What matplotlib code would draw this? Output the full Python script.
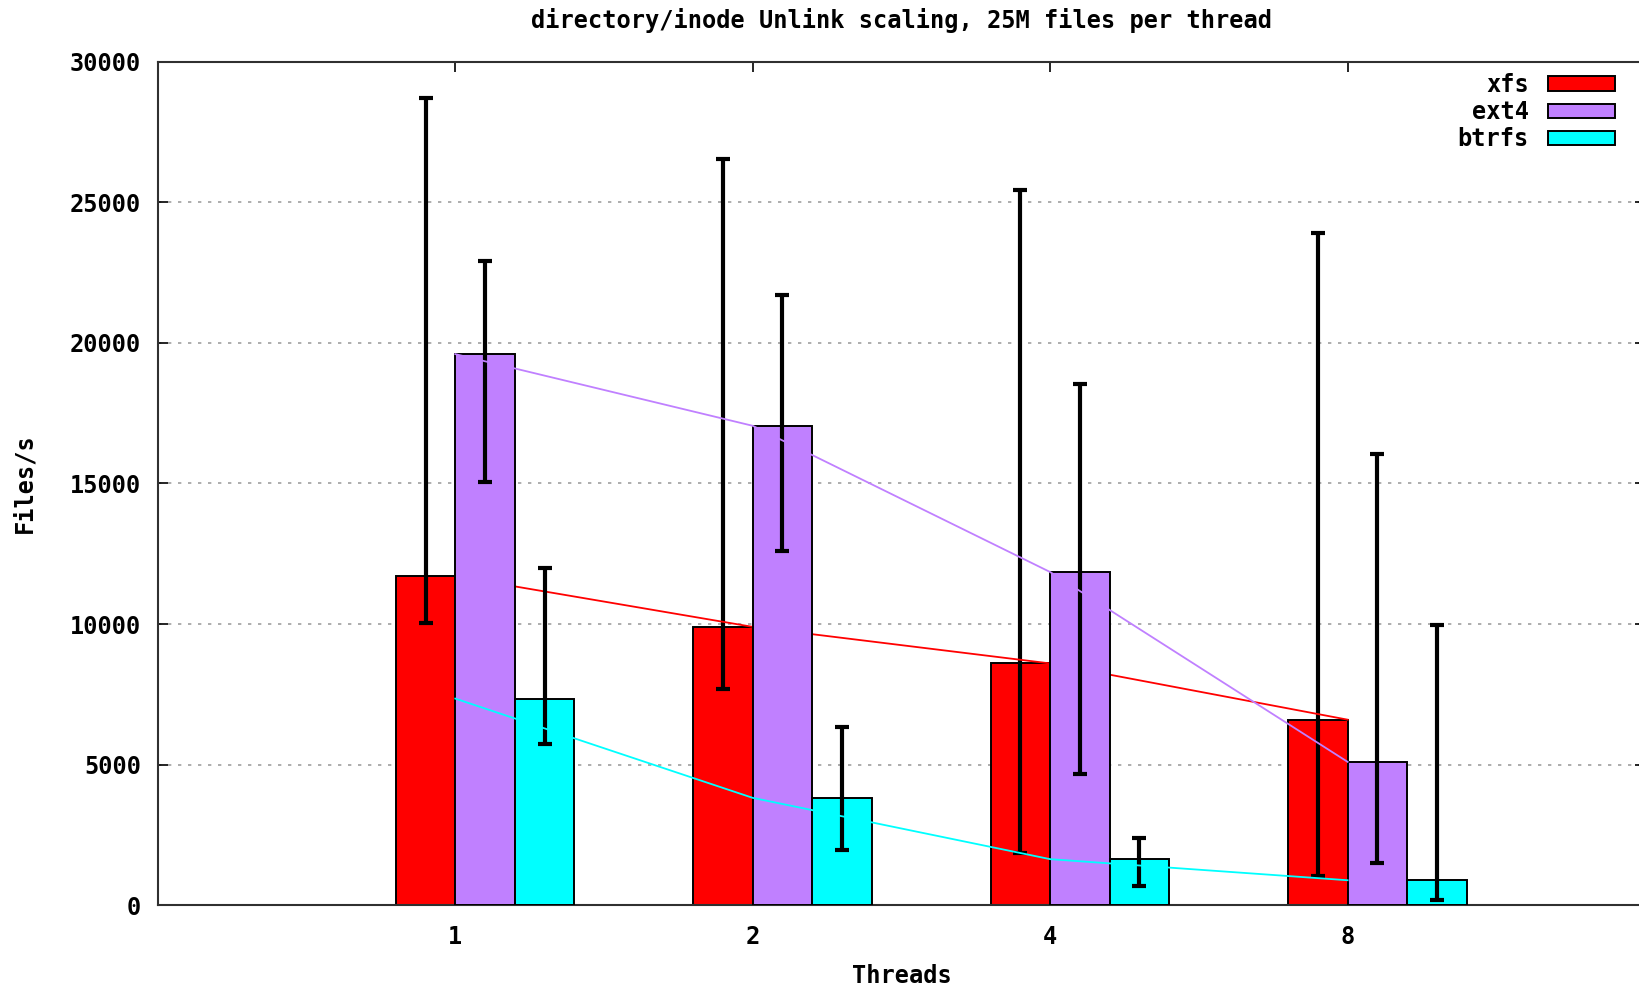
#Unlink scaling chart: xfs / ext4 / btrfs, bars with error ranges and trend lines
import matplotlib
matplotlib.use("Agg")
import matplotlib.pyplot as plt
import numpy as np

#Data
threads = ["1", "2", "4", "8"]
series = ["xfs", "ext4", "btrfs"]
xfs = [11700, 9900, 8600, 6600]
ext4 = [19600, 17050, 11850, 5100]
btrfs = [7350, 3820, 1640, 890]
#lower / upper ends of the error bars
xfs_low = [10030, 7700, 1860, 1040]
xfs_high = [28700, 26550, 25450, 23900]
ext4_low = [15050, 12600, 4680, 1520]
ext4_high = [22900, 21700, 18550, 16050]
btrfs_low = [5720, 1970, 670, 190]
btrfs_high = [12000, 6350, 2380, 9960]

colors = ["#ff0000", "#c080ff", "#00ffff"]
mono = "DejaVu Sans Mono"
fsize = 17

fig = plt.figure(figsize=(16.39, 9.91), dpi=100)
ax = fig.add_axes([0.0963, 0.0865, 0.9074, 0.8513])

x = np.arange(len(threads))
width = 0.2
values = [xfs, ext4, btrfs]
lows = [xfs_low, ext4_low, btrfs_low]
highs = [xfs_high, ext4_high, btrfs_high]

for i, (name, vals, lo, hi, c) in enumerate(zip(series, values, lows, highs, colors)):
    pos = x - 0.1 + i * width
    vals = np.array(vals)
    yerr = [vals - np.array(lo), np.array(hi) - vals]
    z = 2 + i
    ax.bar(pos, vals, width, color=c, edgecolor="black", linewidth=1.4, label=name, zorder=z)
    ax.errorbar(pos, vals, yerr=yerr, fmt="none", ecolor="black", elinewidth=3,
                capsize=5, capthick=3, zorder=z + 0.2)
    #trend line through the tick positions
    ax.plot(x, vals, color=c, linewidth=1.3, zorder=z + 0.5)

ax.set_xlim(-1, 4)
ax.set_ylim(0, 30000)
ax.set_yticks(np.arange(0, 30001, 5000))
ax.set_xticks(x)
ax.set_xticklabels(threads)
ax.yaxis.grid(True, linestyle=(0, (2, 4)), color="#a0a0a0", linewidth=1.2)
ax.set_axisbelow(True)

ax.tick_params(direction="in", length=7, width=1.2, top=True, right=True,
               labelsize=fsize, colors="black")
ax.tick_params(axis="x", pad=14)
ax.tick_params(axis="y", pad=12)
for lab in ax.get_xticklabels() + ax.get_yticklabels():
    lab.set_fontfamily(mono)
    lab.set_fontweight("bold")
for sp in ax.spines.values():
    sp.set_linewidth(1.5)
    sp.set_color("#303030")

ax.set_xlabel("Threads", fontfamily=mono, fontweight="bold", fontsize=fsize, labelpad=11)
ax.set_ylabel("Files/s", fontfamily=mono, fontweight="bold", fontsize=fsize, labelpad=24)
ax.set_title("directory/inode Unlink scaling, 25M files per thread",
             fontfamily=mono, fontweight="bold", fontsize=fsize, pad=24)

leg = ax.legend(loc="upper right", bbox_to_anchor=(0.994, 1.012), frameon=False, markerfirst=False,
                handlelength=2.85, handleheight=0.55, labelspacing=0.14, handletextpad=0.8,
                prop={"family": mono, "weight": "bold", "size": fsize})
leg.set_zorder(10)

fig.savefig("out.png", dpi=100)
